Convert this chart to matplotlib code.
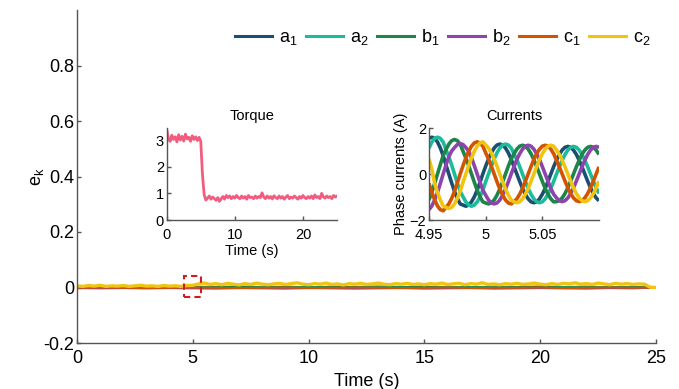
import numpy as np
import matplotlib
matplotlib.use("Agg")
import matplotlib.pyplot as plt
from matplotlib.patches import Rectangle

plt.rcParams['font.family'] = ['Liberation Sans', 'DejaVu Sans']
plt.rcParams['mathtext.fontset'] = 'custom'
plt.rcParams['mathtext.rm'] = 'Liberation Sans'
plt.rcParams['mathtext.it'] = 'Liberation Sans'

# ---------------- data ----------------
series_names = ['a$_1$', 'a$_2$', 'b$_1$', 'b$_2$', 'c$_1$', 'c$_2$']
series_colors = ['#1b4f72', '#1abc9c', '#1e8449', '#8e44ad', '#d35400', '#f1c40f']

# main e_k (fine time base for c2, coarse for others)
ek_t_fine = np.arange(0, 25.0001, 0.25)
ek_t_coarse = np.arange(0, 25.0001, 1.0)
ek_a1 = [0.001, 0.000, 0.001, -0.001, 0.000, 0.001, 0.002, 0.001, 0.000, 0.002, 0.001, 0.000, 0.001,
         0.002, 0.000, 0.001, 0.001, 0.000, 0.002, 0.001, 0.000, 0.001, 0.002, 0.000, 0.001, 0.000]
ek_a2 = [0.002, 0.001, 0.000, 0.002, 0.001, 0.003, 0.002, 0.004, 0.002, 0.003, 0.001, 0.003, 0.002,
         0.004, 0.002, 0.003, 0.002, 0.001, 0.003, 0.002, 0.004, 0.002, 0.003, 0.001, 0.002, 0.000]
ek_b1 = [0.000, 0.001, -0.001, 0.000, 0.001, 0.000, 0.001, 0.002, 0.000, 0.001, 0.000, 0.002, 0.001,
         0.000, 0.001, 0.002, 0.000, 0.001, 0.000, 0.001, 0.002, 0.000, 0.001, 0.000, 0.001, 0.000]
ek_b2 = [-0.002, -0.003, -0.002, -0.003, -0.002, -0.003, -0.004, -0.002, -0.003, -0.004, -0.002, -0.003, -0.004,
         -0.003, -0.002, -0.004, -0.003, -0.002, -0.004, -0.003, -0.002, -0.003, -0.004, -0.002, -0.003, 0.000]
ek_c1 = [-0.001, 0.000, -0.001, -0.002, -0.001, 0.000, -0.001, -0.002, -0.001, 0.000, -0.002, -0.001, 0.000,
         -0.001, -0.002, -0.001, 0.000, -0.002, -0.001, -0.001, 0.000, -0.002, -0.001, 0.000, -0.001, 0.000]
ek_c2 = [0.006, 0.004, 0.007, 0.005, 0.008, 0.004, 0.006, 0.005, 0.007, 0.004,
         0.006, 0.008, 0.005, 0.006, 0.004, 0.007, 0.005, 0.006, 0.004, 0.007,
         0.008, 0.013, 0.016, 0.011, 0.014, 0.010, 0.015, 0.012, 0.009, 0.014,
         0.011, 0.016, 0.012, 0.010, 0.013, 0.015, 0.011, 0.014, 0.017, 0.012,
         0.010, 0.014, 0.012, 0.016, 0.011, 0.013, 0.009, 0.014, 0.012, 0.015,
         0.011, 0.013, 0.016, 0.012, 0.010, 0.014, 0.012, 0.015, 0.011, 0.013,
         0.010, 0.014, 0.012, 0.016, 0.011, 0.013, 0.015, 0.010, 0.014, 0.012,
         0.017, 0.011, 0.013, 0.010, 0.014, 0.012, 0.015, 0.011, 0.013, 0.016,
         0.012, 0.010, 0.014, 0.011, 0.015, 0.013, 0.017, 0.012, 0.014, 0.011,
         0.016, 0.013, 0.010, 0.015, 0.012, 0.014, 0.011, 0.013, 0.012, 0.001, 0.000]

# torque inset
torque_t = np.arange(0, 25.0001, 0.25)
torque_v = [3.40, 3.05, 2.95, 3.18, 3.02, 3.12, 2.93, 3.20, 3.00, 3.14,
            2.96, 3.22, 3.04, 3.10, 2.95, 3.16, 3.02, 3.12, 2.98, 3.10,
            2.95, 1.70, 0.95, 0.75,
            0.82, 0.90, 0.78, 0.86, 0.80, 0.74, 0.84, 0.70, 0.80, 0.88,
            0.78, 0.92, 0.84, 0.90, 0.80, 0.88, 0.82, 0.92, 0.84, 0.80,
            0.90, 0.82, 0.88, 0.78, 0.92, 0.84, 0.86, 0.80, 0.90, 0.82,
            0.88, 0.84, 1.02, 0.86, 0.80, 0.90, 0.82, 0.88, 0.79, 0.91,
            0.84, 0.80, 0.90, 0.82, 0.88, 0.78, 0.86, 0.92, 0.80, 0.86,
            0.82, 0.90, 0.84, 0.78, 0.88, 0.82, 0.92, 0.84, 0.80, 0.88,
            0.82, 0.90, 0.80, 0.94, 0.84, 0.88, 0.80, 1.00, 0.86, 0.82,
            0.90, 0.84, 0.88, 0.80, 0.92, 0.86, 0.90]

# currents inset
cur_t = np.arange(4.95, 5.10001, 0.0025)
cur_a1 = [1.55, 1.60, 1.55, 1.39, 1.13, 0.80, 0.39, 0.00, -0.39, -0.75, -1.06, -1.30, -1.35, -1.40, -1.35, -1.21,
          -0.99, -0.70, -0.36, 0.00, 0.34, 0.65, 0.92, 1.13, 1.26, 1.30, 1.26, 1.13, 0.92, 0.65, 0.32, 0.00,
          -0.32, -0.63, -0.88, -1.08, -1.21, -1.25, -1.21, -1.08, -0.88, -0.63, -0.32, 0.00, 0.32, 0.60, 0.85, 1.04,
          1.16, 1.20, 1.16, 1.04, 0.85, 0.60, 0.31, 0.00, -0.31, -0.60, -0.85, -1.04, -1.16]
cur_a2 = [1.13, 1.39, 1.55, 1.60, 1.55, 1.39, 1.06, 0.75, 0.39, 0.00, -0.39, -0.75, -0.99, -1.21, -1.35, -1.40,
          -1.35, -1.21, -0.99, -0.70, -0.34, 0.00, 0.34, 0.65, 0.92, 1.13, 1.26, 1.30, 1.26, 1.13, 0.88, 0.63,
          0.32, 0.00, -0.32, -0.63, -0.88, -1.08, -1.21, -1.25, -1.21, -1.08, -0.88, -0.63, -0.32, 0.00, 0.31, 0.60,
          0.85, 1.04, 1.16, 1.20, 1.16, 1.04, 0.85, 0.60, 0.31, 0.00, -0.31, -0.60, -0.85]
cur_b1 = [-1.13, -0.80, -0.41, 0.00, 0.41, 0.80, 1.06, 1.30, 1.45, 1.50, 1.45, 1.30, 0.99, 0.70, 0.36, 0.00,
          -0.36, -0.70, -0.99, -1.21, -1.26, -1.30, -1.26, -1.13, -0.92, -0.65, -0.34, 0.00, 0.34, 0.65, 0.88, 1.08,
          1.21, 1.25, 1.21, 1.08, 0.88, 0.63, 0.32, 0.00, -0.32, -0.63, -0.88, -1.08, -1.21, -1.20, -1.16, -1.04,
          -0.85, -0.60, -0.31, 0.00, 0.31, 0.60, 0.85, 1.04, 1.16, 1.20, 1.16, 1.04, 0.85]
cur_b2 = [-1.55, -1.39, -1.13, -0.80, -0.41, 0.00, 0.39, 0.75, 1.00, 1.15, 1.28, 1.32, 1.28, 1.15, 0.99, 0.70,
          0.36, 0.00, -0.36, -0.70, -0.92, -1.13, -1.26, -1.30, -1.26, -1.13, -0.92, -0.65, -0.34, 0.00, 0.32, 0.63,
          0.88, 1.08, 1.21, 1.25, 1.21, 1.08, 0.88, 0.63, 0.32, 0.00, -0.32, -0.63, -0.88, -1.04, -1.16, -1.20,
          -1.16, -1.04, -0.85, -0.60, -0.31, 0.00, 0.31, 0.60, 0.85, 1.04, 1.16, 1.20, 1.16]
cur_c1 = [-0.41, -0.80, -1.13, -1.39, -1.55, -1.60, -1.45, -1.30, -1.06, -0.75, -0.39, 0.00, 0.36, 0.70, 0.99, 1.21,
          1.35, 1.40, 1.35, 1.21, 0.92, 0.65, 0.34, 0.00, -0.34, -0.65, -0.92, -1.13, -1.26, -1.30, -1.21, -1.08,
          -0.88, -0.63, -0.32, 0.00, 0.32, 0.63, 0.88, 1.08, 1.21, 1.25, 1.21, 1.08, 0.88, 0.60, 0.31, 0.00,
          -0.31, -0.60, -0.85, -1.04, -1.16, -1.20, -1.16, -1.04, -0.85, -0.60, -0.31, 0.00, 0.31]
cur_c2 = [0.65, 0.20, -0.41, -0.80, -1.13, -1.39, -1.45, -1.50, -1.45, -1.30, -1.06, -0.75, -0.36, 0.00, 0.36, 0.70,
          0.99, 1.21, 1.35, 1.40, 1.26, 1.13, 0.92, 0.65, 0.34, 0.00, -0.34, -0.65, -0.92, -1.13, -1.21, -1.25,
          -1.21, -1.08, -0.88, -0.63, -0.32, 0.00, 0.32, 0.63, 0.88, 1.08, 1.21, 1.25, 1.21, 1.04, 0.85, 0.60,
          0.31, 0.00, -0.31, -0.60, -0.85, -1.04, -1.16, -1.20, -1.16, -1.04, -0.85, -0.60, -0.31]

main_xticks = [0, 5, 10, 15, 20, 25]
main_yticks = [-0.2, 0, 0.2, 0.4, 0.6, 0.8]
main_yticklabels = ['-0.2', '0', '0.2', '0.4', '0.6', '0.8']
cur_xticks = [4.95, 5.0, 5.05]
cur_xticklabels = ['4.95', '5', '5.05']

# ---------------- figure ----------------
spine_c = '#555555'
fig = plt.figure(figsize=(6.79, 3.89), dpi=100)

def style(ax, fs, xpad):
    for s in ['top', 'right']:
        ax.spines[s].set_visible(False)
    for s in ['left', 'bottom']:
        ax.spines[s].set_color(spine_c)
        ax.spines[s].set_linewidth(1.0)
    ax.tick_params(direction='in', length=3, width=1.0, color=spine_c,
                   labelsize=fs, labelcolor='black', pad=2)
    ax.tick_params(axis='x', pad=xpad)

ax = fig.add_axes([77/679, 1-343/389, 579/679, 333/389])
style(ax, 13, 5)
coarse = [ek_a1, ek_a2, ek_b1, ek_b2, ek_c1]
for vals, col, name in zip(coarse, series_colors[:5], series_names[:5]):
    ax.plot(ek_t_coarse, vals, color=col, lw=1.5, label=name)
ax.plot(ek_t_fine, ek_c2, color=series_colors[5], lw=2.4, label=series_names[5])
ax.set_xlim(0, 25)
ax.set_ylim(-0.2, 1.0)
ax.set_xticks(main_xticks)
ax.set_yticks(main_yticks, labels=main_yticklabels)
ax.set_xlabel('Time (s)', fontsize=13, labelpad=4)
ax.set_ylabel('e$_k$', fontsize=13, labelpad=-2)
ax.add_patch(Rectangle((4.6, -0.033), 0.75, 0.076, fill=False, ec='#d01c1c',
                       ls=(0, (3, 2)), lw=1.5, zorder=5))

handles, labels = ax.get_legend_handles_labels()
leg = fig.legend(handles, labels, loc='center right', bbox_to_anchor=(0.958, 1-37/389),
                 ncol=6, frameon=False, fontsize=13, handlelength=2.05, handletextpad=0.4,
                 columnspacing=0.45, borderpad=0, borderaxespad=0)
for h in leg.legend_handles:
    h.set_linewidth(2.2)

# torque inset
axt = fig.add_axes([166.7/679, 1-220/389, 170.3/679, 92/389])
style(axt, 10.5, 6)
axt.plot(torque_t, torque_v, color='#f25c7f', lw=2.0)
axt.set_xlim(0, 25)
axt.set_ylim(0, 3.45)
axt.set_xticks([0, 10, 20])
axt.set_yticks([0, 1, 2, 3])
axt.set_xlabel('Time (s)', fontsize=10.5, labelpad=1)
axt.set_title('Torque', fontsize=10.5, pad=6)
axt.patch.set_alpha(0)

# currents inset
axc = fig.add_axes([429/679, 1-220/389, 170/679, 92/389])
style(axc, 10.5, 6)
for vals, col in zip([cur_a1, cur_a2, cur_b1, cur_b2, cur_c1, cur_c2], series_colors):
    axc.plot(cur_t, vals, color=col, lw=2.6, solid_capstyle='butt')
axc.set_xlim(4.95, 5.1)
axc.set_ylim(-2, 2)
axc.set_xticks(cur_xticks, labels=cur_xticklabels)
axc.set_yticks([-2, 0, 2])
axc.set_ylabel('Phase currents (A)', fontsize=10.5, labelpad=1)
axc.set_title('Currents', fontsize=10.5, pad=6)
axc.patch.set_alpha(0)

fig.savefig('out.png', dpi=100)
